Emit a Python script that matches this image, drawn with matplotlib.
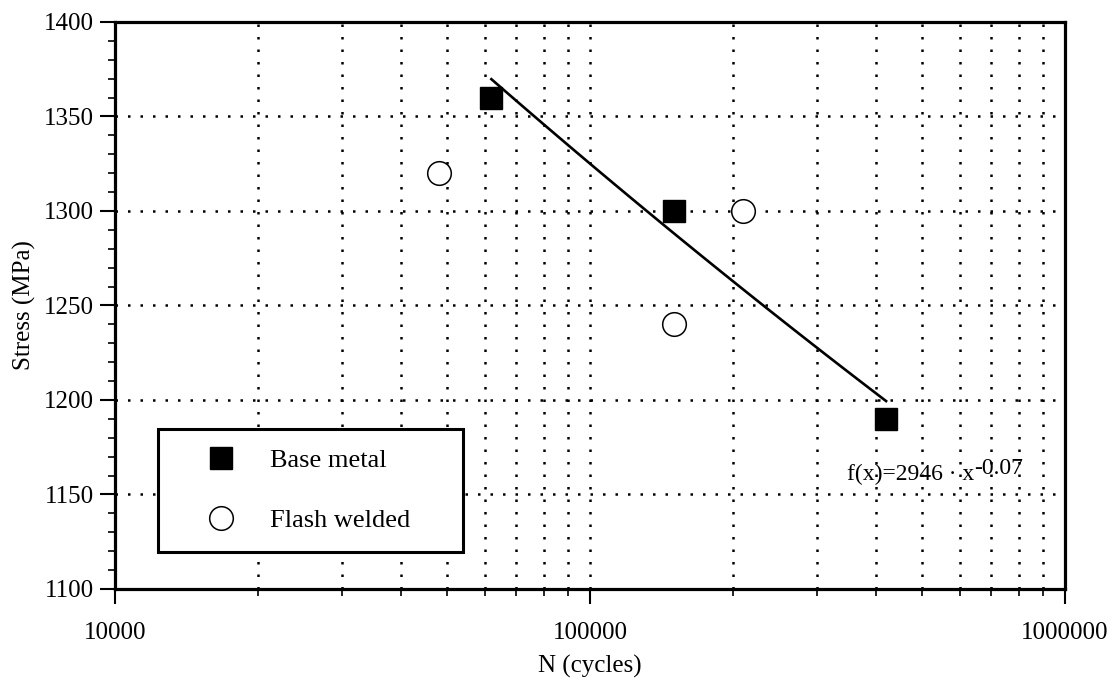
import matplotlib
matplotlib.use("Agg")
import matplotlib.pyplot as plt
import matplotlib.ticker as mticker
import numpy as np

plt.rcParams['font.family'] = ['Liberation Serif', 'DejaVu Serif']

# fatigue test results
base_n = [62000, 150000, 420000]
base_stress = [1360, 1300, 1190]
welded_n = [48000, 150000, 210000]
welded_stress = [1320, 1240, 1300]

# power-law fit for the base metal, f(x) = a * x^b
fit_coef = 2946
fit_exp = -0.0694

x_ticks = [10000, 100000, 1000000]
y_ticks = [1100, 1150, 1200, 1250, 1300, 1350, 1400]

fig = plt.figure(figsize=(11.15, 6.81), dpi=100)
ax = fig.add_axes([0.1031, 0.1351, 0.8521, 0.8326])

ax.set_xscale('log')
ax.set_xlim(10000, 1000000)
ax.set_ylim(1100, 1400)

ax.xaxis.set_major_locator(mticker.FixedLocator(x_ticks))
ax.xaxis.set_major_formatter(mticker.FuncFormatter(lambda v, p: f'{int(round(v))}'))
ax.xaxis.set_minor_locator(mticker.LogLocator(base=10, subs=np.arange(2, 10)))
ax.xaxis.set_minor_formatter(mticker.NullFormatter())
ax.yaxis.set_major_locator(mticker.FixedLocator(y_ticks))
ax.yaxis.set_minor_locator(mticker.MultipleLocator(10))

ax.tick_params(which='major', direction='out', length=11, width=1.5, labelsize=18, pad=4)
ax.tick_params(which='minor', direction='out', length=5, width=1.2)
ax.tick_params(axis='x', which='major', pad=13)

dots = (0, (1, 4))
ax.grid(True, which='major', axis='both', color='black', linestyle=dots, linewidth=1.8)
ax.grid(True, which='minor', axis='x', color='black', linestyle=dots, linewidth=1.8)
ax.set_axisbelow(True)

for s in ax.spines.values():
    s.set_linewidth(2.3)

# fit line across the base metal range
xf = np.logspace(np.log10(base_n[0]), np.log10(base_n[-1]), 100)
ax.plot(xf, fit_coef * xf ** fit_exp, color='black', linewidth=1.9, zorder=3)

ax.plot(base_n, base_stress, 's', color='black', markersize=16.5, linestyle='none',
        label='Base metal', zorder=4)
ax.plot(welded_n, welded_stress, 'o', markerfacecolor='white', markeredgecolor='black',
        markeredgewidth=1.1, markersize=17, linestyle='none', label='Flash welded', zorder=4)

t = ax.text(347000, 1157.5, f'f(x)={fit_coef} \u00b7 x', fontsize=17, va='baseline',
            ha='left', zorder=5)
ax.annotate(f'{fit_exp:.2f}', xy=(1.0, 0.0), xycoords=t, xytext=(0, 8),
            textcoords='offset points', fontsize=17, va='baseline', ha='left', zorder=5)

leg = ax.legend(loc='lower left', bbox_to_anchor=(0.045, 0.065, 0.321, 0.2275),
                mode='expand', fontsize=19, frameon=True, fancybox=False,
                edgecolor='black', framealpha=1, borderpad=0.75, labelspacing=1.4,
                handlelength=3.3, handletextpad=0.2, borderaxespad=0)
leg.get_frame().set_linewidth(2.2)

ax.set_xlabel('N (cycles)', fontsize=18, labelpad=7.5)
ax.set_ylabel('Stress (MPa)', fontsize=18, labelpad=6)

fig.savefig('out.png', dpi=100)
